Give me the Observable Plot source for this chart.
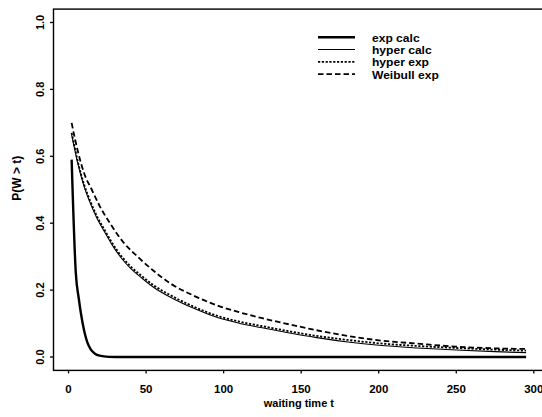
<!DOCTYPE html>
<html><head><meta charset="utf-8">
<script src="https://cdn.jsdelivr.net/npm/d3@7"></script>
<script src="https://cdn.jsdelivr.net/npm/@observablehq/plot@0.6"></script>
<style>html,body{margin:0;padding:0;background:#fff;overflow:hidden}</style>
</head><body><div id="chart"></div>
<script>
// ---- data ----
const xTicks = [0, 50, 100, 150, 200, 250, 300];
const yTicks = [0, 0.2, 0.4, 0.6, 0.8, 1.0];
const xLabel = "waiting time t";
const yLabel = "P(W > t)";
const seriesNames = ["exp calc", "hyper calc", "hyper exp", "Weibull exp"];

const tExpCalc = [2, 4.7, 6.6, 8, 10, 12, 14.4, 17, 20, 26, 35, 60, 100, 150, 200, 250, 295];
const vExpCalc = [0.59, 0.25, 0.175, 0.13, 0.08, 0.045, 0.022, 0.01, 0.004, 0.0005, 0, 0, 0, 0, 0, 0, 0];

const tHyper = [2, 4, 6, 10, 14, 18, 23, 28, 34, 40, 47, 55, 66, 80, 96, 110, 124, 140, 160, 180, 200, 225, 250, 275, 295];
const vHyperCalc = [0.665, 0.62, 0.578, 0.51, 0.46, 0.418, 0.376, 0.336, 0.296, 0.265, 0.237, 0.208, 0.178, 0.147, 0.118, 0.101, 0.088, 0.074, 0.058, 0.045, 0.035, 0.027, 0.021, 0.016, 0.013];
const vHyperExp = [0.67, 0.626, 0.584, 0.516, 0.466, 0.424, 0.382, 0.342, 0.302, 0.271, 0.243, 0.214, 0.184, 0.152, 0.123, 0.106, 0.093, 0.079, 0.063, 0.051, 0.041, 0.033, 0.027, 0.022, 0.019];

const tWeibull = [2, 4, 6, 10, 15, 20, 27, 35, 45, 55, 66, 80, 96, 110, 125, 140, 160, 180, 200, 225, 250, 275, 295];
const vWeibull = [0.70, 0.655, 0.615, 0.55, 0.50, 0.452, 0.398, 0.345, 0.298, 0.257, 0.219, 0.185, 0.154, 0.134, 0.116, 0.100, 0.080, 0.063, 0.050, 0.040, 0.031, 0.026, 0.024];

// ---- styles ----
const font = "'Liberation Sans', Arial, Helvetica, sans-serif";
const styles = {
  "exp calc":    {strokeWidth: 2.4, dash: null},
  "hyper calc":  {strokeWidth: 1.1, dash: null},
  "hyper exp":   {strokeWidth: 1.8, dash: "2.2,1.6"},
  "Weibull exp": {strokeWidth: 1.8, dash: "5.5,3"}
};

const rows = (t, v) => t.map((d, i) => ({t: d, v: v[i]}));
const series = {
  "exp calc": rows(tExpCalc, vExpCalc),
  "hyper calc": rows(tHyper, vHyperCalc),
  "hyper exp": rows(tHyper, vHyperExp),
  "Weibull exp": rows(tWeibull, vWeibull)
};

const lineMarks = seriesNames.map(name => Plot.line(series[name], {
  x: "t", y: "v", stroke: "black", curve: "monotone-x",
  strokeWidth: styles[name].strokeWidth,
  strokeDasharray: styles[name].dash || undefined,
  strokeLinecap: "butt"
}));

const chart = Plot.plot({
  width: 542, height: 417,
  marginLeft: 53, marginRight: -1.7, marginTop: 8.6, marginBottom: 47.1,
  style: {fontFamily: font, fontWeight: "bold", background: "white", color: "black"},
  x: {domain: [-9.7, 306.7]},
  y: {domain: [-0.04, 1.04]},
  marks: [
    Plot.frame({stroke: "black", strokeWidth: 1.4}),
    Plot.axisX(xTicks, {tickSize: 3.5, tickPadding: 11, label: null, fontSize: 11.5, strokeWidth: 1.3, tickFormat: d => String(d)}),
    Plot.axisY(yTicks, {tickSize: 3, tickPadding: 7, tickRotate: -90, label: null, fontSize: 11, strokeWidth: 1.3, tickFormat: d => d.toFixed(1)}),
    ...lineMarks,
    Plot.text([xLabel], {frameAnchor: "bottom", dy: 37, text: d => d, fontSize: 11}),
    Plot.text([yLabel], {frameAnchor: "left", dx: -36, dy: 11, rotate: -90, text: d => d, fontSize: 12})
  ]
});

// ---- legend (top right, inside plot) ----
const svg = d3.select(chart);
const legendY = [37.2, 49.5, 61.8, 74.1];
const lg = svg.append("g").attr("font-family", font).attr("font-weight", "bold").attr("font-size", 10.5);
seriesNames.forEach((name, i) => {
  const y = legendY[i];
  lg.append("line").attr("x1", 318).attr("x2", 355).attr("y1", y).attr("y2", y)
    .attr("stroke", "black").attr("stroke-width", styles[name].strokeWidth)
    .attr("stroke-dasharray", styles[name].dash);
  lg.append("g").attr("transform", `translate(372,${y + 1}) scale(1.15,1)`)
    .append("text").attr("x", 0).attr("y", 0).attr("dy", "0.35em")
    .attr("text-anchor", "start").attr("fill", "black").text(name);
});

document.getElementById("chart").appendChild(chart);
</script>
</body></html>
